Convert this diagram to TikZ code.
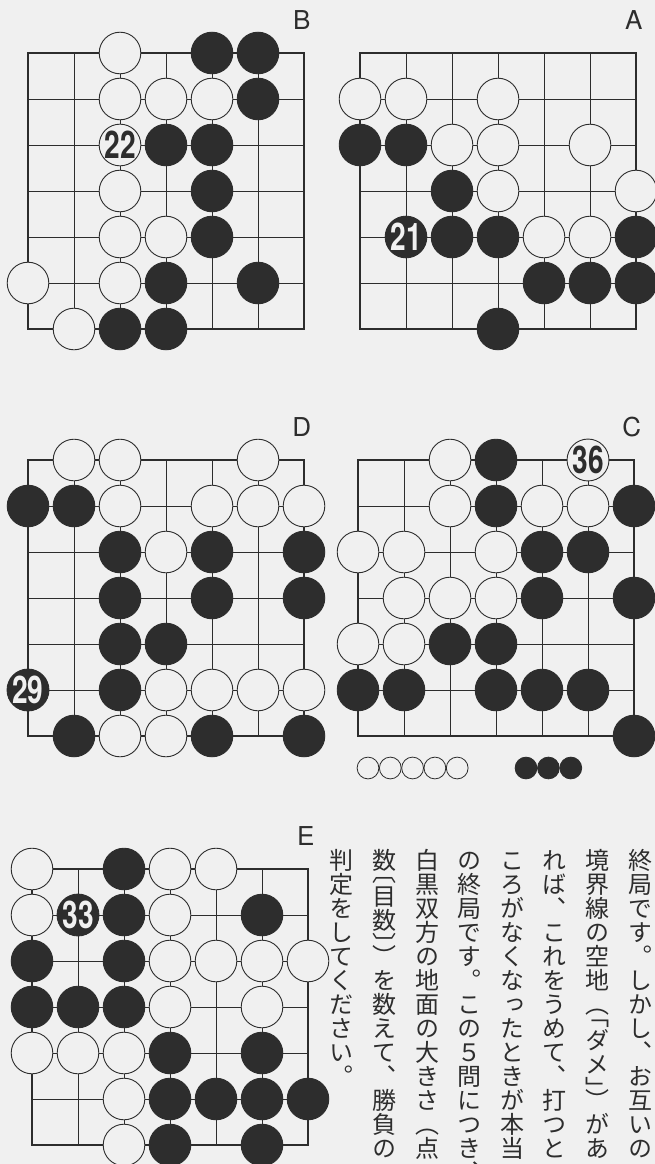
\documentclass[tikz,border=0pt]{standalone}
\usepackage{fontspec}
\newfontfamily\tatefont[RawFeature=+vert]{Noto Sans CJK JP}
\newfontfamily\heros{TeX Gyre Heros}
\usetikzlibrary{positioning}
\definecolor{paper}{RGB}{240,240,240}
\definecolor{ink}{RGB}{45,45,45}

\newcommand{\numfont}{\heros\bfseries\fontsize{38}{38}\selectfont}
\newcommand{\snum}[1]{\scalebox{0.74}[1]{#1}}

% one 7x7 board: name, origin, label, white stones, black stones, extra
\newcommand{\goboard}[6]{%
  \begin{scope}[shift={#2}, x=46pt, y=-46pt]
    \foreach \k in {0,...,6}{
      \draw[gridline] (\k,0) -- (\k,6);
      \draw[gridline] (0,\k) -- (6,\k);
    }
    \draw[boardframe] (0,0) rectangle (6,6);
    \node[boardlabel] (#1-label) at (5.95,-0.72) {#3};
    \foreach \c/\r in {#4} \node[wstone] (#1-w\c\r) at (\c,\r) {};
    \foreach \c/\r in {#5} \node[bstone] (#1-b\c\r) at (\c,\r) {};
    #6
  \end{scope}}

% one column of vertical text: name, x, glyph/cell list
\newcommand{\tatecol}[3]{%
  \foreach \g/\i [count=\n] in {#3}
    \node[tate] (#1-\n) at (#2, 860+24*\i) {\g};}

\begin{document}
\begin{tikzpicture}[
    x=1pt, y=-1pt,
    gridline/.style={draw=ink, line width=0.9pt},
    boardframe/.style={draw=ink, line width=2.6pt},
    stone/.style={circle, minimum size=41.6pt, inner sep=0pt, line width=0.9pt, draw=ink},
    wstone/.style={stone, fill=paper},
    bstone/.style={stone, fill=ink},
    wnum/.style={wstone, text=ink, font=\numfont},
    bnum/.style={bstone, text=paper, font=\numfont},
    boardlabel/.style={font=\heros\fontsize{26}{26}\selectfont, text=ink, inner sep=0pt},
    tate/.style={font=\tatefont\fontsize{24}{24}\selectfont, text=ink, inner sep=0pt,
        text height=21.1pt, text depth=2.9pt, minimum width=24pt},
    tatehalf/.style={tate, text height=9.1pt, text depth=2.9pt},
    prisoner/.style={circle, minimum size=21.8pt, inner sep=0pt, line width=0.8pt, draw=ink},
]
\useasboundingbox (0,0) rectangle (655,1164);
\fill[paper] (0,0) rectangle (655,1164);

% A
\goboard{A}{(360,53)}{A}
  {0/1,1/1,3/1,2/2,3/2,5/2,3/3,6/3,4/4,5/4}
  {0/2,1/2,2/3,2/4,3/4,6/4,4/5,5/5,6/5,3/6}
  {\node[bnum] (A-21) at (1,4) {\snum{21}};}

% B
\goboard{B}{(28,53)}{B}
  {2/0,2/1,3/1,4/1,2/3,2/4,3/4,0/5,2/5,1/6}
  {4/0,5/0,5/1,3/2,4/2,4/3,4/4,3/5,5/5,2/6,3/6}
  {\node[wnum] (B-22) at (2,2) {\snum{22}};}

% C
\goboard{C}{(358,460)}{C}
  {2/0,2/1,4/1,5/1,0/2,1/2,3/2,1/3,2/3,3/3,0/4,1/4}
  {3/0,3/1,6/1,4/2,5/2,4/3,6/3,2/4,3/4,0/5,1/5,3/5,4/5,5/5,6/6}
  {\node[wnum] (C-36) at (5,0) {\snum{36}};}

% D
\goboard{D}{(28,460)}{D}
  {1/0,2/0,5/0,2/1,4/1,5/1,6/1,3/2,3/5,4/5,5/5,6/5,2/6,3/6}
  {0/1,1/1,2/2,4/2,6/2,2/3,4/3,6/3,2/4,3/4,2/5,1/6,4/6,6/6}
  {\node[bnum] (D-29) at (0,5) {\snum{29}};}

% E
\goboard{E}{(32,869)}{E}
  {0/0,3/0,4/0,0/1,3/1,3/2,4/2,5/2,6/2,3/3,5/3,0/4,1/4,2/4,2/5,2/6}
  {2/0,2/1,5/1,0/2,2/2,0/3,1/3,2/3,3/4,5/4,3/5,4/5,5/5,6/5,3/6,5/6}
  {\node[bnum] (E-33) at (1,1) {\snum{33}};}

% prisoners under C
\foreach \px [count=\n] in {368,390.3,412.6,434.9,457.2}
  \node[prisoner, fill=paper] (pw\n) at (\px,768) {};
\foreach \px [count=\n] in {526,548.4,570.8}
  \node[prisoner, fill=ink] (pb\n) at (\px,768) {};

% text
\tatecol{t1}{640}{終/0,局/1,で/2,す/3,︒/4,し/5,か/6,し/7,︑/8,お/9,互/10,い/11,の/12}
\tatecol{t2}{597.4}{境/0,界/1,線/2,の/3,空/4,地/5,ダ/7.5,メ/8.5,が/11,あ/12}
\tatecol{t3}{554.8}{れ/0,ば/1,︑/2,こ/3,れ/4,を/5,う/6,め/7,て/8,︑/9,打/10,つ/11,と/12}
\tatecol{t4}{512.2}{こ/0,ろ/1,が/2,な/3,く/4,な/5,っ/6,た/7,と/8,き/9,が/10,本/11,当/12}
\tatecol{t5}{469.6}{の/0,終/1,局/2,で/3,す/4,︒/5,こ/6,の/7,５/8,問/9,に/10,つ/11,き/12,︑/13}
\tatecol{t6}{427}{白/0,黒/1,双/2,方/3,の/4,地/5,面/6,の/7,大/8,き/9,さ/10,︵/11,点/12}
\tatecol{t7}{384.4}{数/0,目/1.5,数/2.5,を/5,数/6,え/7,て/8,︑/9,勝/10,負/11,の/12}
\tatecol{t8}{341.8}{判/0,定/1,を/2,し/3,て/4,く/5,だ/6,さ/7,い/8,︒/9}

% half-width brackets
\node[tatehalf] (t2-o1) at (597.4, 860+24*6.25) {︵};
\node[tatehalf] (t2-o2) at (597.4, 860+24*6.75) {﹁};
\node[tatehalf] (t2-c1) at (597.4, 860+24*9.25) {\raisebox{-12pt}{﹂}};
\node[tatehalf] (t2-c2) at (597.4, 860+24*9.75) {\raisebox{-12pt}{︶}};
\node[tatehalf] (t7-o1) at (384.4, 860+24*0.75) {︹};
\node[tatehalf] (t7-c1) at (384.4, 860+24*3.25) {\raisebox{-12pt}{︺}};
\node[tatehalf] (t7-c2) at (384.4, 860+24*3.75) {\raisebox{-12pt}{︶}};

\end{tikzpicture}
\end{document}
